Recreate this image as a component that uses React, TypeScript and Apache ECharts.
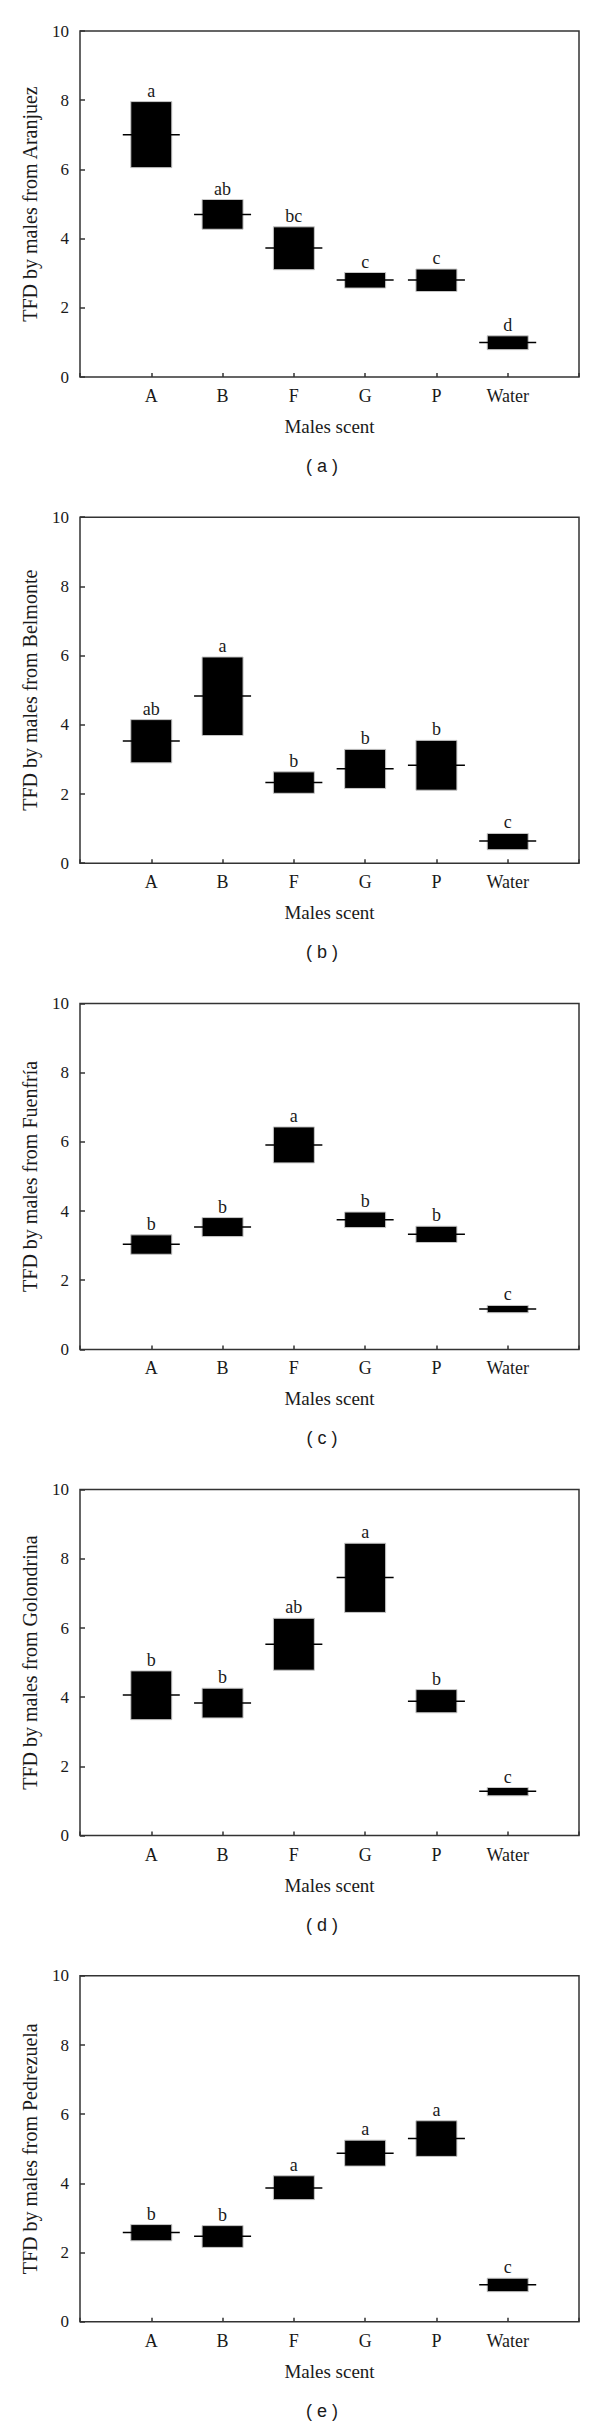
import React, { useEffect, useRef } from "react";
import * as echarts from "echarts";

// Categories (male scent sources)
const categories = ["A", "B", "F", "G", "P", "Water"];
const sites = ["Aranjuez", "Belmonte", "Fuenfría", "Golondrina", "Pedrezuela"];
const panelTags = ["a", "b", "c", "d", "e"];
const yTicks = [0, 2, 4, 6, 8, 10];

// (a) Aranjuez
const aranjuezLow = [6.05, 4.27, 3.1, 2.57, 2.47, 0.79];
const aranjuezHigh = [7.96, 5.13, 4.34, 3.02, 3.12, 1.19];
const aranjuezMid = [7.0, 4.7, 3.73, 2.8, 2.8, 1.0];
const aranjuezLetters = ["a", "ab", "bc", "c", "c", "d"];

// (b) Belmonte
const belmonteLow = [2.9, 3.69, 2.02, 2.16, 2.11, 0.39];
const belmonteHigh = [4.15, 5.96, 2.64, 3.29, 3.55, 0.86];
const belmonteMid = [3.53, 4.83, 2.33, 2.73, 2.83, 0.64];
const belmonteLetters = ["ab", "a", "b", "b", "b", "c"];

// (c) Fuenfría
const fuenfriaLow = [2.75, 3.26, 5.39, 3.52, 3.09, 1.06];
const fuenfriaHigh = [3.31, 3.81, 6.43, 3.97, 3.56, 1.27];
const fuenfriaMid = [3.04, 3.54, 5.91, 3.75, 3.33, 1.17];
const fuenfriaLetters = ["b", "b", "a", "b", "b", "c"];

// (d) Golondrina
const golondrinaLow = [3.35, 3.4, 4.78, 6.45, 3.55, 1.15];
const golondrinaHigh = [4.76, 4.26, 6.28, 8.45, 4.22, 1.39];
const golondrinaMid = [4.06, 3.83, 5.53, 7.46, 3.88, 1.28];
const golondrinaLetters = ["b", "b", "ab", "a", "b", "c"];

// (e) Pedrezuela
const pedrezuelaLow = [2.34, 2.15, 3.53, 4.5, 4.78, 0.87];
const pedrezuelaHigh = [2.81, 2.78, 4.22, 5.25, 5.81, 1.26];
const pedrezuelaMid = [2.58, 2.47, 3.87, 4.87, 5.3, 1.07];
const pedrezuelaLetters = ["b", "b", "a", "a", "a", "c"];

const panels = [
  { low: aranjuezLow, high: aranjuezHigh, mid: aranjuezMid, letters: aranjuezLetters },
  { low: belmonteLow, high: belmonteHigh, mid: belmonteMid, letters: belmonteLetters },
  { low: fuenfriaLow, high: fuenfriaHigh, mid: fuenfriaMid, letters: fuenfriaLetters },
  { low: golondrinaLow, high: golondrinaHigh, mid: golondrinaMid, letters: golondrinaLetters },
  { low: pedrezuelaLow, high: pedrezuelaHigh, mid: pedrezuelaMid, letters: pedrezuelaLetters },
];

const SERIF = "'Liberation Serif', 'Times New Roman', serif";
const SANS = "'Liberation Sans', Arial, sans-serif";
const PANEL_H = 486.2;
const TEXT = "#1a1a1a";
const LINE = "#333";

export default function App() {
  const ref = useRef<HTMLDivElement>(null);

  useEffect(() => {
    if (!ref.current) return;
    const chart = echarts.init(ref.current, undefined, { renderer: "svg" });

    const grids: any[] = [];
    const xAxes: any[] = [];
    const yAxes: any[] = [];
    const series: any[] = [];
    const graphics: any[] = [];

    panels.forEach((p, i) => {
      const off = PANEL_H * i;
      grids.push({
        left: 80,
        top: 31 + off,
        width: 499,
        height: 346,
        show: true,
        borderColor: LINE,
        borderWidth: 1.5,
        backgroundColor: "transparent",
      });
      xAxes.push({
        type: "value",
        gridIndex: i,
        min: 0,
        max: categories.length + 1,
        interval: 1,
        name: "Males scent",
        nameLocation: "middle",
        nameGap: 40,
        nameTextStyle: { fontFamily: SERIF, fontSize: 19, color: TEXT },
        axisLine: { show: false },
        axisTick: { show: true, inside: true, length: 4, lineStyle: { color: LINE, width: 1.5 } },
        axisLabel: {
          margin: 10,
          fontFamily: SERIF,
          fontSize: 18,
          color: TEXT,
          formatter: (v: number) => categories[v - 1] ?? "",
        },
        splitLine: { show: false },
      });
      yAxes.push({
        type: "value",
        gridIndex: i,
        min: yTicks[0],
        max: yTicks[yTicks.length - 1],
        interval: 2,
        name: "TFD by males from " + sites[i],
        nameLocation: "middle",
        nameGap: 40,
        nameTextStyle: { fontFamily: SERIF, fontSize: 20, color: TEXT },
        axisLine: { show: false },
        axisTick: { show: true, inside: true, length: 5, lineStyle: { color: LINE, width: 1.5 } },
        axisLabel: { margin: 11, fontFamily: SERIF, fontSize: 17, color: TEXT },
        splitLine: { show: false },
      });
      const data = categories.map((_, k) => [k + 1, p.low[k], p.high[k], p.mid[k], k]);
      series.push({
        type: "custom",
        xAxisIndex: i,
        yAxisIndex: i,
        data,
        encode: { x: 0, y: [1, 2, 3] },
        renderItem: (params: any, api: any) => {
          const x = api.value(0);
          const lo = api.coord([x, api.value(1)]);
          const hi = api.coord([x, api.value(2)]);
          const md = api.coord([x, api.value(3)]);
          const idx = api.value(4);
          const bw = 41;
          const mw = 57;
          return {
            type: "group",
            children: [
              {
                type: "rect",
                shape: { x: lo[0] - bw / 2, y: hi[1], width: bw, height: lo[1] - hi[1] },
                style: { fill: "#000", stroke: "#c8c8c8", lineWidth: 1 },
              },
              {
                type: "line",
                shape: { x1: md[0] - mw / 2, y1: md[1], x2: md[0] + mw / 2, y2: md[1] },
                style: { stroke: "#000", lineWidth: 1.5 },
              },
              {
                type: "text",
                x: hi[0],
                y: hi[1] - 2,
                style: {
                  text: p.letters[idx],
                  fontFamily: SERIF,
                  fontSize: 18,
                  fill: TEXT,
                  align: "center",
                  verticalAlign: "bottom",
                },
              },
            ],
          };
        },
      });
      graphics.push({
        type: "text",
        x: 322,
        y: 466 + off,
        style: {
          text: "( " + panelTags[i] + " )",
          fontFamily: SANS,
          fontSize: 18,
          fill: TEXT,
          align: "center",
          verticalAlign: "middle",
        },
      });
    });

    chart.setOption({
      animation: false,
      backgroundColor: "#fff",
      grid: grids,
      xAxis: xAxes,
      yAxis: yAxes,
      series,
      graphic: graphics,
    });

    return () => chart.dispose();
  }, []);

  return (
    <div
      ref={ref}
      style={{ position: "absolute", left: 0, top: 0, width: 600, height: 2433 }}
    />
  );
}
